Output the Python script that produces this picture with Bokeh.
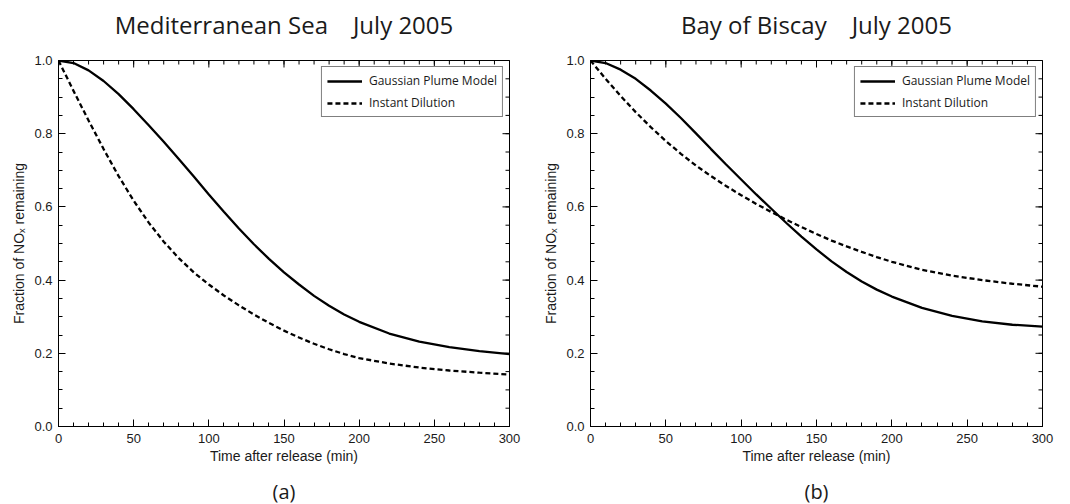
import math
from bokeh.plotting import figure
from bokeh.layouts import row, column
from bokeh.models import Range1d, LinearAxis, FixedTicker, PrintfTickFormatter, Legend, LegendItem
from bokeh.core.properties import value
from bokeh.embed import file_html
from bokeh.resources import INLINE

# ---------------- data ----------------
time_min = [0, 10, 20, 30, 40, 50, 60, 70, 80, 90, 100, 110, 120, 130, 140, 150,
            160, 170, 180, 190, 200, 220, 240, 260, 280, 300]

med_gaussian = [1.000, 0.993, 0.973, 0.944, 0.908, 0.867, 0.823, 0.778, 0.731, 0.683,
                0.634, 0.587, 0.541, 0.498, 0.458, 0.421, 0.388, 0.357, 0.330, 0.306,
                0.286, 0.254, 0.232, 0.217, 0.206, 0.198]
med_instant = [1.000, 0.917, 0.836, 0.758, 0.684, 0.617, 0.557, 0.505, 0.460, 0.421,
               0.388, 0.358, 0.331, 0.306, 0.283, 0.262, 0.243, 0.226, 0.211, 0.198,
               0.187, 0.172, 0.161, 0.153, 0.147, 0.142]

bis_gaussian = [1.000, 0.993, 0.975, 0.950, 0.918, 0.882, 0.843, 0.801, 0.758, 0.716,
                0.675, 0.634, 0.595, 0.556, 0.519, 0.484, 0.451, 0.422, 0.396, 0.374,
                0.355, 0.324, 0.302, 0.287, 0.278, 0.273]
bis_instant = [1.000, 0.950, 0.903, 0.859, 0.818, 0.780, 0.745, 0.713, 0.684, 0.657,
               0.632, 0.608, 0.586, 0.565, 0.545, 0.526, 0.508, 0.492, 0.477, 0.463,
               0.450, 0.428, 0.412, 0.400, 0.390, 0.382]

x_major = [0, 50, 100, 150, 200, 250, 300]
x_minor = list(range(0, 301, 10))
y_major = [0.0, 0.2, 0.4, 0.6, 0.8, 1.0]
y_minor = [round(i * 0.05, 2) for i in range(21)]

titles = ["Mediterranean Sea \u00a0\u00a0 July 2005", "Bay of Biscay \u00a0\u00a0 July 2005"]
panel_tags = ["(a)", "(b)"]
series_names = ["Gaussian Plume Model", "Instant Dilution"]

TICK_FONT = "Liberation Sans"
TEXT_FONT = "Open Sans"
INK = "#1a1a1a"

PANEL_W = 535
TOP_H, MAIN_H, BOT_H = 40, 430, 34
FRAME_TOP_BORDER, FRAME_BOTTOM_BORDER = 20, 44


def style_axis(ax, ticks, minors, fmt=None):
    ax.ticker = FixedTicker(ticks=ticks, minor_ticks=minors)
    ax.major_tick_in = 7
    ax.major_tick_out = 0
    ax.minor_tick_in = 4
    ax.minor_tick_out = 0
    ax.axis_line_color = "black"
    ax.major_tick_line_color = "black"
    ax.minor_tick_line_color = "black"
    if fmt is not None:
        ax.formatter = fmt
    ax.major_label_text_font = TICK_FONT
    ax.major_label_text_font_size = "13px"
    ax.major_label_text_color = INK
    ax.axis_label_text_font = TICK_FONT
    ax.axis_label_text_font_size = "14px"
    ax.axis_label_text_font_style = "normal"
    ax.axis_label_text_color = INK


def mirror_ticks(p):
    # tick marks on the top and right frame edges (half of each marker is clipped by the frame)
    p.scatter(x_minor, [1.0] * len(x_minor), marker="dash", angle=math.pi / 2, size=8,
              line_color="black", line_width=1)
    p.scatter(x_major, [1.0] * len(x_major), marker="dash", angle=math.pi / 2, size=14,
              line_color="black", line_width=1)
    p.scatter([300] * len(y_minor), y_minor, marker="dash", size=8,
              line_color="black", line_width=1)
    p.scatter([300] * len(y_major), y_major, marker="dash", size=14,
              line_color="black", line_width=1)


def text_strip(height, text, cx, y, size):
    s = figure(width=PANEL_W, height=height, output_backend="svg", toolbar_location=None,
               x_range=Range1d(0, PANEL_W), y_range=Range1d(0, height),
               min_border_left=0, min_border_right=0, min_border_top=0, min_border_bottom=0,
               x_axis_type=None, y_axis_type=None)
    s.xgrid.visible = False
    s.ygrid.visible = False
    s.outline_line_color = None
    s.background_fill_color = "white"
    s.border_fill_color = "white"
    s.text(x=[cx], y=[y], text=[text], text_align="center", text_baseline="middle",
           text_font=value(TEXT_FONT), text_font_size=size, text_color=INK)
    return s


def make_panel(gauss, inst, bl, br):
    p = figure(width=PANEL_W, height=MAIN_H, output_backend="svg", toolbar_location=None,
               x_range=Range1d(0, 300), y_range=Range1d(0, 1), title=None,
               min_border_left=bl, min_border_right=br,
               min_border_top=FRAME_TOP_BORDER, min_border_bottom=FRAME_BOTTOM_BORDER,
               x_axis_type=None, y_axis_type=None)
    p.xgrid.visible = False
    p.ygrid.visible = False
    p.outline_line_color = "black"
    p.background_fill_color = "white"
    p.border_fill_color = "white"

    xb = LinearAxis(axis_label="Time after release (min)")
    style_axis(xb, x_major, x_minor)
    xb.major_label_standoff = 7
    xb.axis_label_standoff = 2
    p.add_layout(xb, "below")

    yl = LinearAxis(axis_label="Fraction of NO\u2093 remaining")
    style_axis(yl, y_major, y_minor, PrintfTickFormatter(format="%.1f"))
    yl.major_label_standoff = 6
    yl.axis_label_standoff = 4
    p.add_layout(yl, "left")

    mirror_ticks(p)

    r1 = p.line(time_min, gauss, line_color="black", line_width=2.3)
    r2 = p.line(time_min, inst, line_color="black", line_width=2.3, line_dash="5 3")

    leg = Legend(items=[LegendItem(label=series_names[0], renderers=[r1]),
                        LegendItem(label=series_names[1], renderers=[r2])],
                 location="top_right")
    leg.label_text_font = TEXT_FONT
    leg.label_text_font_size = "12px"
    leg.label_text_color = INK
    leg.border_line_color = "black"
    leg.border_line_width = 1
    leg.background_fill_alpha = 1
    leg.padding = 5
    leg.margin = 6
    leg.spacing = 5
    leg.glyph_width = 35
    leg.glyph_height = 16
    leg.label_height = 16
    leg.label_standoff = 7
    p.add_layout(leg, "center")
    return p


borders = [(58, 26), (55, 28)]
series = [(med_gaussian, med_instant), (bis_gaussian, bis_instant)]

tops, mains, bots = [], [], []
for i in range(2):
    bl, br = borders[i]
    cx = bl + (PANEL_W - bl - br) / 2
    tops.append(text_strip(TOP_H, titles[i], cx, 16, "24px"))
    mains.append(make_panel(series[i][0], series[i][1], bl, br))
    bots.append(text_strip(BOT_H, panel_tags[i], cx, 13, "20px"))

layout = column(row(*tops), row(*mains), row(*bots))
open("out.html", "w").write(file_html(layout, INLINE))
